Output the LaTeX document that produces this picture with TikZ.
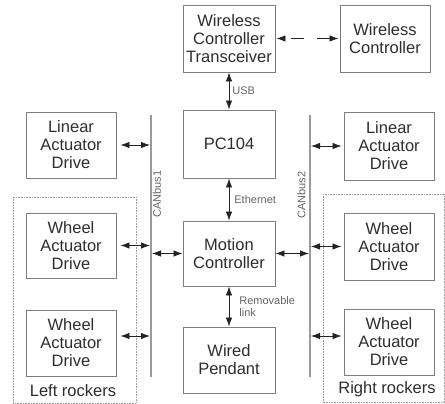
\documentclass[tikz,border=0pt]{standalone}
\usepackage{fontspec}
\setmainfont{Liberation Sans}
\usepackage{tikz}
\usetikzlibrary{arrows.meta}

\definecolor{boxline}{RGB}{125,125,125}
\definecolor{boxtext}{RGB}{45,45,45}
\definecolor{lbltext}{RGB}{100,100,100}
\definecolor{arrowcol}{RGB}{35,35,35}
\definecolor{busline}{RGB}{155,155,155}

\begin{document}
\begin{tikzpicture}[x=1pt,y=-1pt,>={Latex[length=9pt,width=6.5pt]},
        blk/.style={draw=boxline, line width=0.9pt, text=boxtext, align=center, inner sep=0pt,
                    font=\fontsize{16.5}{18}\selectfont, minimum width=90pt, minimum height=66pt},
        txt/.style={text=boxtext, inner sep=0pt, font=\fontsize{16.5}{18}\selectfont},
        lbl/.style={text=lbltext, inner sep=0pt, align=left, font=\fontsize{11}{12.5}\selectfont},
        link/.style={<->, draw=arrowcol, line width=0.8pt},
        bus/.style={draw=busline, line width=1.3pt},
        grp/.style={draw=busline, densely dotted, line width=0.6pt}]
        \useasboundingbox (0,0) rectangle (445,404);

        % centre column
        \node[blk, minimum width=92pt, minimum height=67pt] (wct) at (229,38.5) {Wireless\\Controller\\Transceiver};
        \node[blk, minimum height=67pt] (wc) at (385,38.5) {Wireless\\Controller};
        \node[blk, minimum width=92pt, minimum height=68pt] (pc) at (229,144) {PC104};
        \node[blk, minimum width=92pt, minimum height=65pt] (mc) at (229,253.5) {Motion\\Controller};
        \node[blk, minimum width=92pt] (wp) at (229,360) {Wired\\Pendant};

        % drives
        \node[blk] (lad) at (71,145) {Linear\\Actuator\\Drive};
        \node[blk, minimum height=65pt] (lw1) at (71,245.5) {Wheel\\Actuator\\Drive};
        \node[blk] (lw2) at (71,343) {Wheel\\Actuator\\Drive};
        \node[blk, minimum height=68pt] (rad) at (389,146) {Linear\\Actuator\\Drive};
        \node[blk, minimum height=67pt] (rw1) at (389,246.5) {Wheel\\Actuator\\Drive};
        \node[blk] (rw2) at (389,342) {Wheel\\Actuator\\Drive};

        % CAN buses
        \coordinate (b1top) at (151,115);
        \coordinate (b1bot) at (151,377);
        \coordinate (b2top) at (310,115);
        \coordinate (b2bot) at (310,377);
        \draw[bus] (b1top) -- (b1bot);
        \draw[bus] (b2top) -- (b2bot);
        \node[lbl, rotate=90] (can1) at (157,194) {CANbus1};
        \node[lbl, rotate=90] (can2) at (301.5,195) {CANbus2};

        % rocker groups
        \draw[grp] (13,197) rectangle (136,403);
        \draw[grp] (323,194) rectangle (444.5,402.5);
        \node[txt] (lrk) at (73,391) {Left rockers};
        \node[txt] (rrk) at (387,389) {Right rockers};

        \draw[link, dash pattern=on 13pt off 13pt, dash phase=20pt, shorten <=1pt, shorten >=1pt] (wct.east) -- (wc.west);
        \draw[link] (wct.south) -- node[lbl, right=3pt] {USB} (pc.north);
        \draw[link] (pc.south) -- node[lbl, right=5pt] {Ethernet} (mc.north);
        \draw[link] (mc.south) -- node[lbl, right=10pt] {Removable\\link} (wp.north);

        \draw[link, shorten <=4pt, shorten >=1pt] (lad.east) -- (lad.east -| b1top);
        \draw[link, shorten <=4pt, shorten >=1pt] (lw1.east) -- (lw1.east -| b1top);
        \draw[link, shorten <=4pt, shorten >=1pt] ([yshift=7pt]lw2.east) -- ([yshift=7pt]lw2.east -| b1top);
        \draw[link, shorten <=1pt] (mc.west -| b1top) -- (mc.west);
        \draw[link, shorten >=1pt] (mc.east) -- (mc.east -| b2top);
        \draw[link, shorten <=1pt, shorten >=2pt] (rad.west -| b2top) -- (rad.west);
        \draw[link, shorten <=1pt, shorten >=2pt] (rw1.west -| b2top) -- (rw1.west);
        \draw[link, shorten <=1pt, shorten >=2pt] ([yshift=6pt]rw2.west -| b2top) -- ([yshift=6pt]rw2.west);
    \end{tikzpicture}
\end{document}
